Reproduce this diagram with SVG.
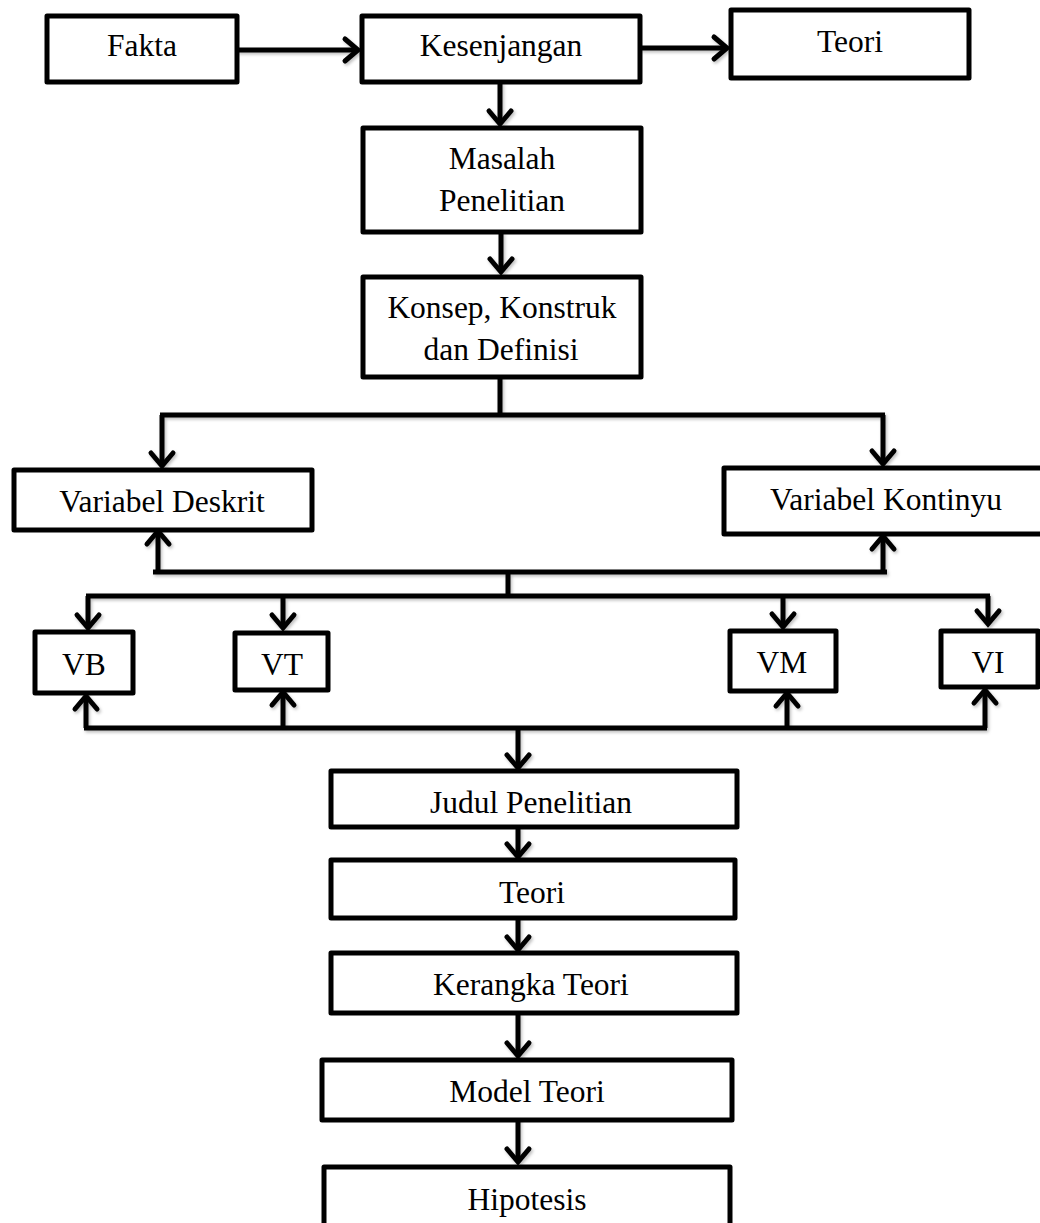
<svg xmlns="http://www.w3.org/2000/svg" width="1040" height="1223" viewBox="0 0 1040 1223">
<defs>
<style>
.box{fill:#fff;stroke:#000;stroke-width:5;stroke-linejoin:round}
.t{font-family:"Liberation Serif","Times New Roman",serif;font-size:31.5px;fill:#000;text-anchor:middle}
.c{fill:none;stroke:#000;stroke-width:5;stroke-linecap:butt}
.a{marker-end:url(#arr)}
</style>
<marker id="arr" markerUnits="userSpaceOnUse" viewBox="-20 -15 26 30" refX="0" refY="0" markerWidth="26" markerHeight="30" orient="auto" overflow="visible">
<path d="M-13,-11 L0,0 L-13,11" fill="none" stroke="#000" stroke-width="5" stroke-linecap="round" stroke-linejoin="miter"/>
</marker>
<filter id="sh" x="-5%" y="-5%" width="110%" height="115%">
<feDropShadow dx="1.5" dy="2" stdDeviation="1.5" flood-color="#000" flood-opacity="0.25"/>
</filter>
</defs>
<rect width="1040" height="1223" fill="#fff"/>
<g id="connectors" filter="url(#sh)">
<path class="c a" d="M237,50 H358"/>
<path class="c a" d="M640,48 H727"/>
<path class="c a" d="M500,82 V124"/>
<path class="c a" d="M501,232 V272"/>
<path class="c" d="M500,377 V415"/>
<path class="c" d="M160,415 H885"/>
<path class="c a" d="M162,415 V466"/>
<path class="c a" d="M883,415 V464"/>
<path class="c a" d="M158,572 V531"/>
<path class="c a" d="M883,572 V536"/>
<path class="c" d="M153,572 H887"/>
<path class="c" d="M508,572 V596"/>
<path class="c" d="M86,596 H990"/>
<path class="c a" d="M88,596 V628"/>
<path class="c a" d="M283,596 V628"/>
<path class="c a" d="M783,596 V627"/>
<path class="c a" d="M988,596 V624"/>
<path class="c" d="M84,728 H987"/>
<path class="c a" d="M86,728 V696"/>
<path class="c a" d="M283,728 V692"/>
<path class="c a" d="M787,728 V693"/>
<path class="c a" d="M985,728 V690"/>
<path class="c a" d="M518,728 V768"/>
<path class="c a" d="M518,827 V857"/>
<path class="c a" d="M518,912 V950"/>
<path class="c a" d="M518,1013 V1056"/>
<path class="c a" d="M518,1115 V1162"/>
</g>
<g id="fakta"><rect class="box" x="47" y="16" width="190" height="66"/><text class="t" x="142" y="56">Fakta</text></g>
<g id="kesenjangan"><rect class="box" x="362" y="16" width="278" height="66"/><text class="t" x="501" y="56">Kesenjangan</text></g>
<g id="teori-atas"><rect class="box" x="731" y="10" width="238" height="68"/><text class="t" x="850" y="52">Teori</text></g>
<g id="masalah"><rect class="box" x="363" y="128" width="278" height="104"/><text class="t" x="502" y="169">Masalah</text><text class="t" x="502" y="211">Penelitian</text></g>
<g id="konsep"><rect class="box" x="363" y="277" width="278" height="100"/><text class="t" x="502" y="318">Konsep, Konstruk</text><text class="t" x="501" y="360">dan Definisi</text></g>
<g id="variabel-deskrit"><rect class="box" x="14" y="470" width="298" height="60"/><text class="t" x="162" y="512">Variabel Deskrit</text></g>
<g id="variabel-kontinyu"><rect class="box" x="724" y="468" width="330" height="66"/><text class="t" x="886" y="510">Variabel Kontinyu</text></g>
<g id="vb"><rect class="box" x="35" y="632" width="98" height="61"/><text class="t" x="84" y="675">VB</text></g>
<g id="vt"><rect class="box" x="235" y="633" width="93" height="57"/><text class="t" x="282" y="675">VT</text></g>
<g id="vm"><rect class="box" x="730" y="631" width="106" height="60"/><text class="t" x="782" y="673">VM</text></g>
<g id="vi"><rect class="box" x="941" y="631" width="97" height="56"/><text class="t" x="988" y="673">VI</text></g>
<g id="judul"><rect class="box" x="331" y="771" width="406" height="56"/><text class="t" x="531" y="813">Judul Penelitian</text></g>
<g id="teori"><rect class="box" x="331" y="860" width="404" height="58"/><text class="t" x="532" y="903">Teori</text></g>
<g id="kerangka"><rect class="box" x="331" y="953" width="406" height="60"/><text class="t" x="531" y="995">Kerangka Teori</text></g>
<g id="model"><rect class="box" x="322" y="1060" width="410" height="60"/><text class="t" x="527" y="1102">Model Teori</text></g>
<g id="hipotesis"><rect class="box" x="324" y="1167" width="406" height="70"/><text class="t" x="527" y="1210">Hipotesis</text></g>
</svg>
